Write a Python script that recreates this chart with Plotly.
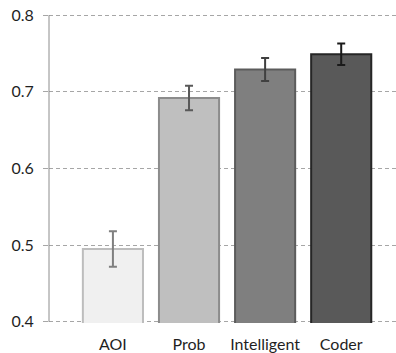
import plotly.graph_objects as go

# Mean scores per model with error margins
categories = ["AOI", "Prob", "Intelligent", "Coder"]
scores = [0.495, 0.692, 0.729, 0.749]
errors = [0.023, 0.016, 0.015, 0.014]

# Greyscale styling per bar
fills = ["#f0f0f0", "#bfbfbf", "#7f7f7f", "#595959"]
outlines = ["#bdbdbd", "#8c8c8c", "#5c5c5c", "#262626"]
err_colors = ["#7f7f7f", "#595959", "#404040", "#1a1a1a"]

y_ticks = [0.4, 0.5, 0.6, 0.7, 0.8]

fig = go.Figure()
for cat, val, err, fc, lc, ec in zip(categories, scores, errors, fills, outlines, err_colors):
    fig.add_trace(go.Bar(
        x=[cat], y=[val],
        width=0.79,
        marker=dict(color=fc, line=dict(color=lc, width=2)),
        error_y=dict(type="data", array=[err], visible=True,
                     color=ec, thickness=2, width=4),
        showlegend=False,
    ))

fig.update_layout(
    width=396, height=353,
    margin=dict(l=49, r=0, t=14, b=28),
    paper_bgcolor="white", plot_bgcolor="white",
    barmode="overlay",
    font=dict(family="Lato, Open Sans, sans-serif", size=16, color="#1f1f1f"),
    xaxis=dict(
        type="category",
        categoryorder="array", categoryarray=categories,
        range=[-0.84, 3.72],
        showgrid=False, showline=False, ticks="",
        ticklabelstandoff=10,
        tickfont=dict(size=16, color="#1f1f1f"),
    ),
    yaxis=dict(
        range=[0.3985, 0.8015],
        tickvals=y_ticks,
        ticktext=[f"{v:.1f}" for v in y_ticks],
        showgrid=True, gridcolor="#a6a6a6", gridwidth=1, griddash="4px,3px",
        showline=False,
        ticks="outside", ticklen=5, tickcolor="#a6a6a6",
        zeroline=False,
        ticklabelstandoff=6,
        tickfont=dict(size=16, color="#1f1f1f"),
    ),
)

# Solid vertical axis line spanning the value range
fig.add_shape(type="line", xref="paper", yref="y",
              x0=0, x1=0, y0=y_ticks[0], y1=y_ticks[-1],
              line=dict(color="#8c8c8c", width=1), layer="above")

fig.write_html("out.html")
